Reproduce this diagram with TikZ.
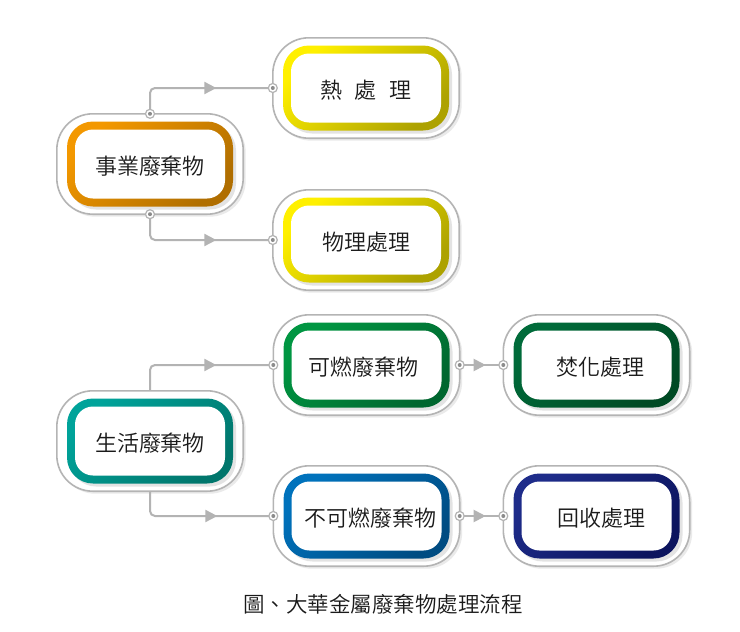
\documentclass[tikz,border=0pt]{standalone}
\usepackage{fontspec}
\newfontfamily\cjk{Noto Sans CJK TC DemiLight}
\usetikzlibrary{arrows.meta,calc,shadows,decorations.markings}
\pgfdeclarelayer{bgA}
\pgfdeclarelayer{bgB}
\pgfsetlayers{bgA,bgB,main}
\definecolor{txtc}{HTML}{1A1A1A}
\definecolor{framec}{HTML}{B4B4B4}
\definecolor{linec}{HTML}{B3B3B3}
\definecolor{dotc}{HTML}{8C8C8C}
\definecolor{orA}{HTML}{F39800}\definecolor{orB}{HTML}{B06E00}
\definecolor{yeA}{HTML}{FFF000}\definecolor{yeB}{HTML}{ADA200}
\definecolor{teA}{HTML}{00A39A}\definecolor{teB}{HTML}{00766C}
\definecolor{grA}{HTML}{009642}\definecolor{grB}{HTML}{00672F}
\definecolor{dgA}{HTML}{006B3A}\definecolor{dgB}{HTML}{004A24}
\definecolor{blA}{HTML}{0072BC}\definecolor{blB}{HTML}{004C82}
\definecolor{nvA}{HTML}{1E2C8A}\definecolor{nvB}{HTML}{0C145E}
\tikzset{
  box/.style={minimum width=186pt, minimum height=100pt, inner sep=0pt, text=txtc,
    font=\cjk\fontsize{22}{26}\selectfont, text height=22pt, text depth=1.2pt},
  frame/.style={draw=framec, line width=1.6pt, fill=white, rounded corners=36pt,
    drop shadow={shadow xshift=2.5pt, shadow yshift=-2.5pt, opacity=0.16}},
  ringshadow/.style={drop shadow={shadow xshift=3pt, shadow yshift=-3pt, opacity=0.22}},
  conn/.style={draw=linec, line width=2pt, rounded corners=5pt},
  arrmid/.style={postaction={decorate, decoration={markings,
    mark=at position #1 with {\arrow{Triangle[length=12pt,width=12pt,color=linec]}}}}},
  caption/.style={text=txtc, font=\cjk\fontsize{21.5}{25}\selectfont, inner sep=0pt}
}
\newcommand\wbox[6]{%
  \node[box] (#1) at (#2,#3) {#6};
  \begin{pgfonlayer}{bgA}
    \path[frame] (#1.south west) rectangle (#1.north east);
  \end{pgfonlayer}
  \begin{pgfonlayer}{bgB}
    \shade[top color=#4, bottom color=#5, shading angle=45, rounded corners=26pt, ringshadow]
      ($(#1)+(-83,-42.5)$) rectangle ($(#1)+(83,42.5)$);
    \fill[white, rounded corners=18pt] ($(#1)+(-75,-34.5)$) rectangle ($(#1)+(75,34.5)$);
  \end{pgfonlayer}
}
\newcommand\jdot[1]{%
  \filldraw[fill=white, draw=linec, line width=1.2pt] (#1) circle (4.5pt);
  \fill[dotc] (#1) circle (2pt);
}
\begin{document}
\begin{tikzpicture}[x=1pt,y=-1pt]
\useasboundingbox (0,0) rectangle (740,632);
\begin{pgfonlayer}{bgA}
  \fill[white] (0,0) rectangle (740,632);
\end{pgfonlayer}
\wbox{sy}{150}{164}{orA}{orB}{事業廢棄物}
\wbox{rl}{366}{88}{yeA}{yeB}{熱\hspace{13pt}處\hspace{13pt}理}
\wbox{wl}{366}{240}{yeA}{yeB}{物理處理}
\wbox{sh}{150}{441}{teA}{teB}{生活廢棄物}
\wbox{kr}{366.5}{365}{grA}{grB}{可燃廢棄物\hspace*{7pt}}
\wbox{fh}{596.5}{365}{dgA}{dgB}{\hspace*{8pt}焚化處理}
\wbox{bk}{366.5}{516}{blA}{blB}{\hspace*{7pt}不可燃廢棄物}
\wbox{hs}{596.5}{516}{nvA}{nvB}{\hspace*{9pt}回收處理}
\node[caption] (cap) at (383,604) {圖、大華金屬廢棄物處理流程};
% connectors
\draw[conn, arrmid=90pt] (sy.north) |- (rl.west);
\draw[conn, arrmid=90pt] (sy.south) |- (wl.west);
\draw[conn, arrmid=90pt] (sh.north) |- (kr.west);
\draw[conn, arrmid=90pt] (sh.south) |- (bk.west);
\draw[conn, arrmid=26pt] (kr.east) -- (fh.west);
\draw[conn, arrmid=26pt] (bk.east) -- (hs.west);
% dots
\jdot{sy.north}\jdot{sy.south}
\jdot{rl.west}\jdot{wl.west}\jdot{kr.west}\jdot{bk.west}
\jdot{kr.east}\jdot{fh.west}\jdot{bk.east}\jdot{hs.west}
\end{tikzpicture}
\end{document}
